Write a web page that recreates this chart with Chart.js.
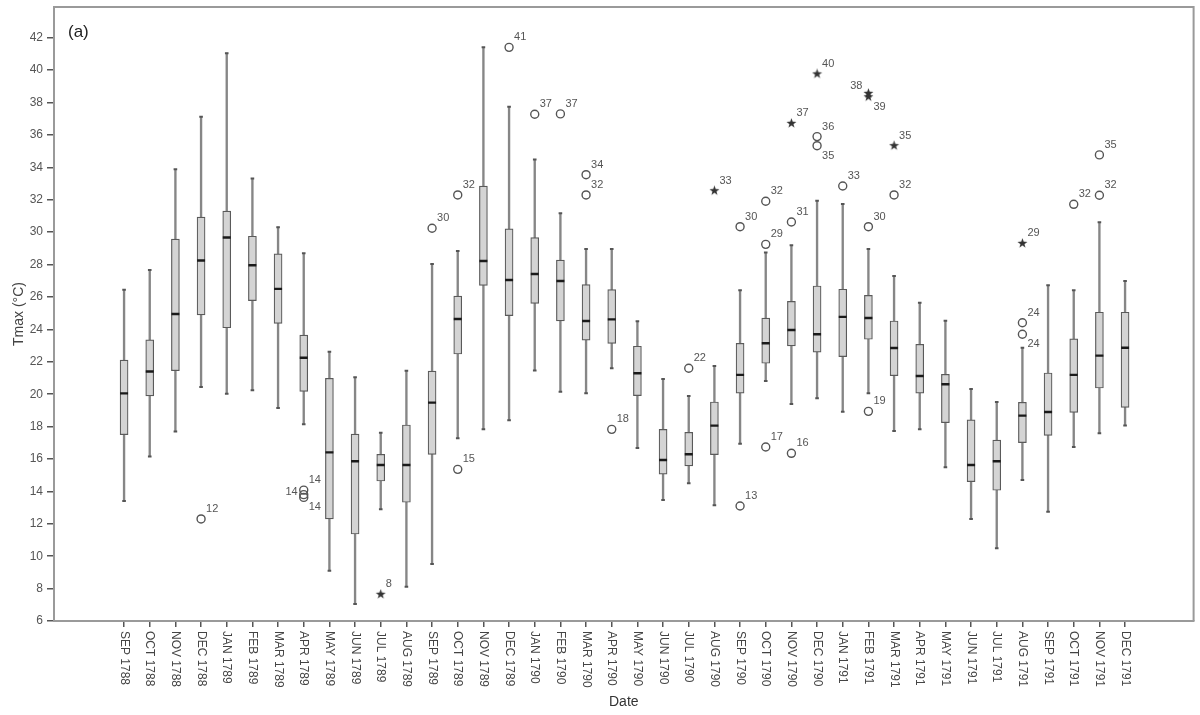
<!DOCTYPE html>
<html><head><meta charset="utf-8">
<script src="https://cdn.jsdelivr.net/npm/chart.js@4.4.1/dist/chart.umd.min.js"></script>
<style>html,body{margin:0;padding:0;background:#fff}#wrap{width:1200px;height:715px}</style>
</head><body><div id="wrap"><canvas id="c" width="1200" height="715"></canvas></div>
<script>
const months = ['SEP 1788','OCT 1788','NOV 1788','DEC 1788',
 'JAN 1789','FEB 1789','MAR 1789','APR 1789','MAY 1789','JUN 1789','JUL 1789','AUG 1789','SEP 1789','OCT 1789','NOV 1789','DEC 1789',
 'JAN 1790','FEB 1790','MAR 1790','APR 1790','MAY 1790','JUN 1790','JUL 1790','AUG 1790','SEP 1790','OCT 1790','NOV 1790','DEC 1790',
 'JAN 1791','FEB 1791','MAR 1791','APR 1791','MAY 1791','JUN 1791','JUL 1791','AUG 1791','SEP 1791','OCT 1791','NOV 1791','DEC 1791'];
const whiskerLow  = [13.4,16.15,17.7,20.45,20.03,20.25,19.15,18.14,9.1,7.05,12.9,8.12,9.52,17.28,17.83,18.39,21.47,20.15,20.06,21.6,16.68,13.47,14.5,13.14,16.94,20.81,19.4,19.75,18.92,20.06,17.73,17.83,15.49,12.3,10.49,14.7,12.75,16.74,17.59,18.06];
const q1          = [17.5,19.9,21.45,24.9,24.1,25.78,24.37,20.17,12.3,11.37,14.64,13.33,16.29,22.48,26.72,24.85,25.61,24.52,23.33,23.14,19.91,15.07,15.57,16.27,20.06,21.91,22.98,22.59,22.32,23.39,21.14,20.06,18.24,14.6,14.07,17.01,17.46,18.88,20.38,19.19];
const median      = [20.05,21.4,24.95,28.25,29.67,27.96,26.5,22.25,16.41,15.86,15.63,15.63,19.48,24.64,28.22,27.05,27.42,26.99,24.52,24.62,21.29,15.94,16.29,18.06,21.19,23.14,23.96,23.7,24.77,24.7,22.85,21.12,20.61,15.63,15.86,18.68,18.9,21.19,22.38,22.87];
const q3          = [22.1,23.35,29.57,30.93,31.3,29.75,28.66,23.65,20.98,17.54,16.29,18.1,21.43,26.06,32.85,30.2,29.66,28.28,26.76,26.45,22.96,17.83,17.65,19.52,23.14,24.7,25.73,26.68,26.48,26.1,24.52,23.08,21.23,18.41,17.17,19.5,21.31,23.41,25.06,25.06];
const whiskerHigh = [26.45,27.67,33.88,37.13,41.05,33.32,30.31,28.7,22.62,21.04,17.62,21.45,28.04,28.84,41.41,37.75,34.48,31.17,28.96,28.96,24.5,20.94,19.89,21.74,26.41,28.74,29.19,31.94,31.74,28.96,27.3,25.65,24.54,20.32,19.52,22.87,26.72,26.41,30.61,26.99];
const outlierMonth = [3,7,7,7,12,13,13,15,16,17,18,18,19,22,24,24,25,25,25,26,26,27,27,28,29,29,30,35,35,37,38,38];
const outlierValue = [12.3,14.08,13.8,13.63,30.24,32.3,15.36,41.41,37.28,37.3,33.55,32.3,17.83,21.6,30.34,13.1,31.91,29.25,16.74,30.63,16.35,35.9,35.34,32.85,30.34,18.94,32.3,24.41,23.7,31.72,34.77,32.28];
const outlierLabel = ['12','14','14','14','30','32','15','41','37','37','34','32','18','22','30','13','32','29','17','31','16','36','35','33','30','19','32','24','24','32','35','32'];
const extremeMonth = [10,23,26,27,29,29,30,35];
const extremeValue = [7.65,32.56,36.72,39.77,38.57,38.36,35.34,29.31];
const extremeLabel = ['8','33','37','40','38','39','35','29'];
const yTicks = [6,8,10,12,14,16,18,20,22,24,26,28,30,32,34,36,38,40,42];

// star marker
const star = document.createElement('canvas');
star.width = 11; star.height = 11;
(function(){const c=star.getContext('2d');c.fillStyle='#333';c.beginPath();
 for(let k=0;k<10;k++){const r=k%2?2.1:5.2;const a=-Math.PI/2+k*Math.PI/5;const px=5.5+r*Math.cos(a),py=5.5+r*Math.sin(a);k?c.lineTo(px,py):c.moveTo(px,py);}c.closePath();c.fill();})();

const idx = months.map((m,i)=>i);
const boxData = idx.map(i=>({x:i,y:[q1[i],q3[i]]}));
const whiskData = idx.map(i=>({x:i,y:[whiskerLow[i],whiskerHigh[i]]}));
const medData = idx.map(i=>({x:i,y:median[i]}));
const capData = idx.map(i=>({x:i,y:whiskerLow[i]})).concat(idx.map(i=>({x:i,y:whiskerHigh[i]})));
const outData = outlierMonth.map((m,k)=>({x:m,y:outlierValue[k]}));
const extData = extremeMonth.map((m,k)=>({x:m,y:extremeValue[k]}));

// label placement (automatic, by clustering)
const marks = [];
outlierMonth.forEach((m,k)=>marks.push({m,v:outlierValue[k],t:outlierLabel[k]}));
extremeMonth.forEach((m,k)=>marks.push({m,v:extremeValue[k],t:extremeLabel[k]}));
const byMonth = {};
marks.forEach(o=>{(byMonth[o.m]=byMonth[o.m]||[]).push(o);});
Object.values(byMonth).forEach(list=>{
  list.sort((a,b)=>b.v-a.v);
  let cl=[];const clusters=[];
  list.forEach(o=>{if(cl.length&&cl[cl.length-1].v-o.v>=0.8){clusters.push(cl);cl=[];}cl.push(o);});
  if(cl.length)clusters.push(cl);
  clusters.forEach(c=>{
    if(c.length===1)c[0].pos='ur';
    else if(c.length===2){c[0].pos=(c[0].v-c[1].v<0.3)?'ul':'ur';c[1].pos='dr';}
    else{c[0].pos='ur';c[c.length-1].pos='dr';for(let j=1;j<c.length-1;j++)c[j].pos='l';}
  });
});

const X_MIN=-2.73, X_MAX=41.67;
const FONT='"Liberation Sans", Arial, sans-serif';

const deco = {
  id:'deco',
  afterDatasetsDraw(chart){
    const {ctx,chartArea:a,scales:{x,y}}=chart;
    ctx.save();
    ctx.strokeStyle='#9a9a9a';ctx.lineWidth=2;
    ctx.beginPath();ctx.moveTo(a.left,a.top);ctx.lineTo(a.right,a.top);ctx.lineTo(a.right,a.bottom);ctx.stroke();
    ctx.fillStyle='#555';ctx.font='11px '+FONT;ctx.textBaseline='middle';
    marks.forEach(o=>{
      const px=x.getPixelForValue(o.m),py=y.getPixelForValue(o.v);
      let dx=5,dy=-10,al='left';
      if(o.pos==='ul'){dx=-6;dy=-7;al='right';}
      else if(o.pos==='dr'){dx=5;dy=10;}
      else if(o.pos==='l'){dx=-6;dy=-3;al='right';}
      ctx.textAlign=al;ctx.fillText(o.t,px+dx,py+dy);
    });
    ctx.fillStyle='#444';ctx.font='12px '+FONT;ctx.textAlign='left';ctx.textBaseline='middle';
    months.forEach((m,i)=>{
      const px=x.getPixelForValue(i);
      ctx.save();ctx.translate(px,a.bottom+10);ctx.rotate(Math.PI/2);ctx.fillText(m,0,0);ctx.restore();
    });
    ctx.fillStyle='#333';ctx.font='14px '+FONT;ctx.textAlign='center';ctx.textBaseline='middle';
    ctx.fillText('Date',(a.left+a.right)/2,702);
    ctx.fillStyle='#222';ctx.font='17px '+FONT;ctx.textAlign='left';
    ctx.fillText('(a)',68,32);
    ctx.restore();
  }
};

new Chart(document.getElementById('c'),{
  type:'bar',
  data:{datasets:[
    {type:'scatter',data:medData,pointStyle:'line',pointRadius:4,borderWidth:2.4,borderColor:'#1a1a1a',order:0},
    {type:'scatter',data:outData,pointStyle:'circle',pointRadius:4,borderWidth:1.4,borderColor:'#555',backgroundColor:'rgba(255,255,255,0)',order:0},
    {type:'scatter',data:extData,pointStyle:star,pointRadius:5,order:0},
    {type:'scatter',data:capData,pointStyle:'line',pointRadius:1.8,borderWidth:2,borderColor:'#555',order:1},
    {data:boxData,barThickness:8,grouped:false,backgroundColor:'#d4d4d4',borderColor:'#5a5a5a',borderWidth:1.2,borderSkipped:false,order:2},
    {data:whiskData,barThickness:1.7,grouped:false,backgroundColor:'#868686',borderWidth:0,order:3}
  ]},
  options:{
    responsive:false,animation:false,
    layout:{padding:{top:7,right:0,left:0,bottom:0}},
    plugins:{legend:{display:false},tooltip:{enabled:false}},
    scales:{
      x:{type:'linear',min:X_MIN,max:X_MAX,offset:false,
        afterBuildTicks:s=>{s.ticks=idx.map(i=>({value:i}));},
        afterFit:s=>{s.height=94;s.paddingLeft=0;s.paddingRight=0;},
        ticks:{display:false},
        grid:{offset:false,drawOnChartArea:false,drawTicks:true,tickLength:6,tickColor:'#555',lineWidth:1.5},
        border:{color:'#9a9a9a',width:2}},
      y:{type:'linear',min:6,max:43.9,
        afterBuildTicks:s=>{s.ticks=yTicks.map(v=>({value:v}));},
        afterFit:s=>{s.width=54;s.paddingTop=0;s.paddingBottom=0;},
        ticks:{color:'#555',font:{size:12,family:FONT},padding:4},
        grid:{drawOnChartArea:false,drawTicks:true,tickLength:7,tickColor:'#555',lineWidth:1.5},
        border:{color:'#9a9a9a',width:2},
        title:{display:true,text:'Tmax (°C)',color:'#444',font:{size:14,family:FONT},padding:{top:11,bottom:0}}}
    }
  },
  plugins:[deco]
});
</script></body></html>
